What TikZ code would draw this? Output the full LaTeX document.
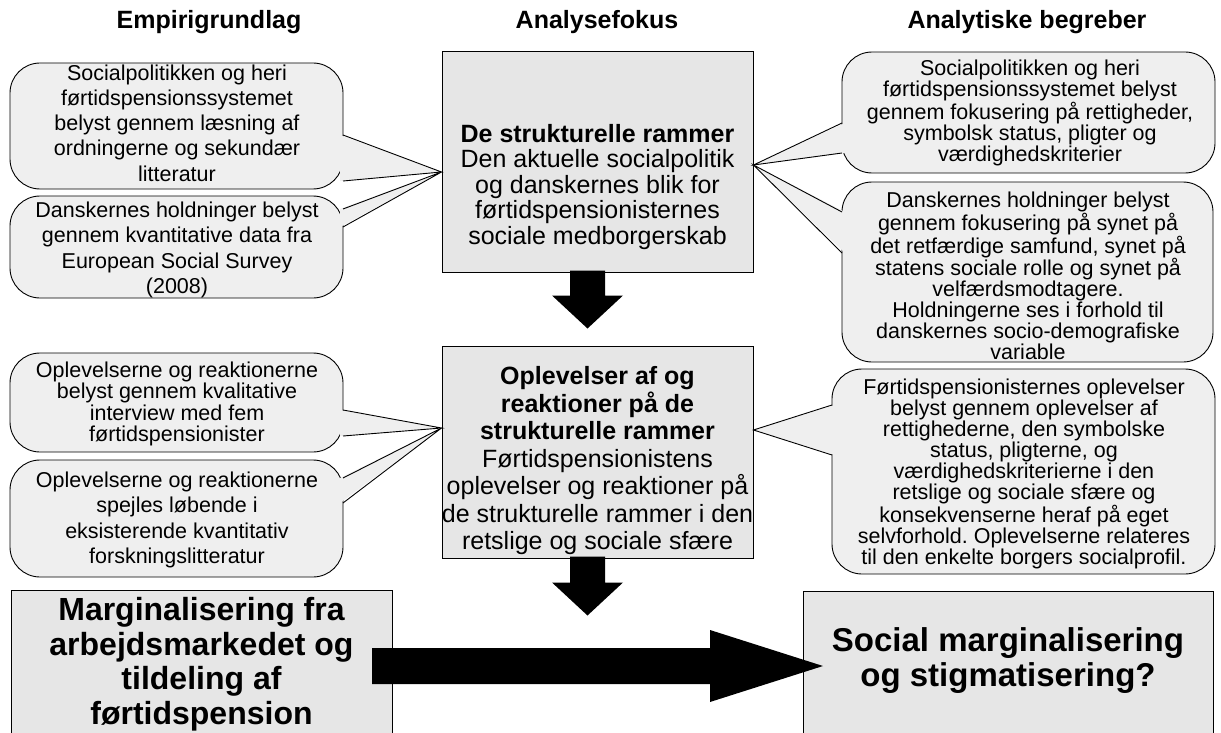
\documentclass[tikz,border=0pt]{standalone}
\usepackage{fontspec}
\setmainfont{Liberation Sans}
\usetikzlibrary{calc}
\definecolor{callfill}{HTML}{EFEFEF}
\definecolor{boxfill}{HTML}{E6E6E6}
\frenchspacing
\tikzset{
  hdr/.style={font=\bfseries\fontsize{25}{28}\selectfont, inner sep=0pt},
  ltext/.style={align=center, inner sep=0pt, font=\fontsize{21.5}{25.3}\selectfont},
  ltextS/.style={align=center, inner sep=0pt, font=\fontsize{21.5}{21.5}\selectfont},
  rtext/.style={align=center, inner sep=0pt, font=\fontsize{21.5}{21}\selectfont},
  cbox/.style={draw=black, fill=boxfill, line width=1pt, minimum width=311pt, inner sep=0pt},
  ctextA/.style={align=center, inner sep=0pt, font=\fontsize{25}{25.5}\selectfont},
  ctextB/.style={align=center, inner sep=0pt, font=\fontsize{25}{27.5}\selectfont},
  bbox/.style={draw=black, fill=boxfill, line width=1pt, inner sep=0pt, anchor=north west, minimum height=175pt},
  btextL/.style={align=center, inner sep=0pt, font=\bfseries\fontsize{32}{34.5}\selectfont},
  btextR/.style={align=center, inner sep=0pt, font=\bfseries\fontsize{33}{35}\selectfont},
  cshape/.style={draw=black, fill=callfill, line width=0.9pt, rounded corners=30pt},
  tailline/.style={draw=black, line width=0.9pt, line join=miter},
  bigarrow/.style={fill=black},
}
% tail on the right side: x1,y1,x2,y2,base1,base2,tip
\newcommand\calloutRight[7]{%
  \path[cshape] (#1,#2) rectangle (#3,#4);
  \fill[callfill] (#3-3,#5) -- (#7) -- (#3-3,#6) -- cycle;
  \path[tailline] (#3,#5) -- (#7) -- (#3,#6);
}
% tail on the left side
\newcommand\calloutLeft[7]{%
  \path[cshape] (#1,#2) rectangle (#3,#4);
  \fill[callfill] (#1+3,#5) -- (#7) -- (#1+3,#6) -- cycle;
  \path[tailline] (#1,#5) -- (#7) -- (#1,#6);
}
\begin{document}
\begin{tikzpicture}[x=1pt,y=-1pt]
\useasboundingbox (0,0) rectangle (1221,733);
\clip (0,0) rectangle (1221,733);
\fill[white] (0,0) rectangle (1221,733);

% headers
\node[hdr] (h1) at (209,22) {Empirigrundlag};
\node[hdr] (h2) at (597,22) {Analysefokus};
\node[hdr] (h3) at (1027,22) {Analytiske begreber};

% centre boxes
\node[cbox, minimum height=220pt] (box1) at (597.5,162) {};
\node[cbox, minimum height=212pt] (box2) at (597.5,452) {};
\node[ctextA] (t1) at (597.5,187) {%
  \textbf{De strukturelle rammer}\\Den aktuelle socialpolitik\\og danskernes blik for\\førtidspensionisternes\\sociale medborgerskab};
\node[ctextB] (t2) at (597.5,461) {%
  \textbf{Oplevelser af og}\\\textbf{reaktioner på de}\\\textbf{strukturelle rammer}\\Førtidspensionistens\\oplevelser og reaktioner på\\de strukturelle rammer i den\\retslige og sociale sfære};

% tips of the callouts
\coordinate (tipL1) at ($(box1.west)+(0,10)$);
\coordinate (tipL2) at ($(box2.west)+(0,-24)$);
\coordinate (tipR1) at ($(box1.east)+(0,3)$);
\coordinate (tipR2) at ($(box2.east)+(0,-22)$);

% left callouts
\calloutRight{10}{63}{343}{189}{135}{181}{tipL1}
\calloutRight{10}{196}{343}{298}{209}{227}{tipL1}
\calloutRight{10}{353}{343}{452}{410}{436}{tipL2}
\calloutRight{10}{460}{343}{577}{478}{503}{tipL2}
% right callouts
\calloutLeft{842}{52}{1215}{173}{123}{153}{tipR1}
\calloutLeft{842}{182}{1213}{362}{212}{253}{tipR1}
\calloutLeft{832}{369}{1215}{574}{405}{455}{tipR2}

% callout texts
\node[ltext] (l1) at (177,123) {Socialpolitikken og heri\\førtidspensionssystemet\\belyst gennem læsning af\\ordningerne og sekundær\\litteratur};
\node[ltext] (l2) at (177,250) {Danskernes holdninger belyst\\gennem kvantitative data fra\\European Social Survey\\(2008)};
\node[ltextS] (l3) at (177,404) {Oplevelserne og reaktionerne\\belyst gennem kvalitative\\interview med fem\\førtidspensionister};
\node[ltext] (l4) at (177,520) {Oplevelserne og reaktionerne\\spejles løbende i\\eksisterende kvantitativ\\forskningslitteratur};
\node[rtext] (r1) at (1030,113) {Socialpolitikken og heri\\førtidspensionssystemet belyst\\gennem fokusering på rettigheder,\\symbolsk status, pligter og\\værdighedskriterier};
\node[rtext] (r2) at (1028,276) {Danskernes holdninger belyst\\gennem fokusering på synet på\\det retfærdige samfund, synet på\\statens sociale rolle og synet på\\velfærdsmodtagere.\\Holdningerne ses i forhold til\\danskernes socio-demografiske\\variable};
\node[rtext] (r3) at (1024,474) {Førtidspensionisternes oplevelser\\belyst gennem oplevelser af\\rettighederne, den symbolske\\status, pligterne, og\\værdighedskriterierne i den\\retslige og sociale sfære og\\konsekvenserne heraf på eget\\selvforhold. Oplevelserne relateres\\til den enkelte borgers socialprofil.};

% down arrows
\fill[bigarrow] ($(box1.south)+(-27.5,-2)$) -- ($(box1.south)+(7.5,-2)$) -- ($(box1.south)+(7.5,23)$)
  -- ($(box1.south)+(25.5,23)$) -- ($(box1.south)+(-10,56)$) -- ($(box1.south)+(-45.5,23)$)
  -- ($(box1.south)+(-27.5,23)$) -- cycle;
\fill[bigarrow] ($(box2.south)+(-27.5,-2)$) -- ($(box2.south)+(7.5,-2)$) -- ($(box2.south)+(7.5,24)$)
  -- ($(box2.south)+(25.5,24)$) -- ($(box2.south)+(-10,57)$) -- ($(box2.south)+(-45.5,24)$)
  -- ($(box2.south)+(-27.5,24)$) -- cycle;

% bottom boxes
\node[bbox, minimum width=381pt] (lbox) at (11,590) {};
\node[bbox, minimum width=410pt] (rbox) at (803,591) {};
\node[btextL] (lt) at (201.5,664) {Marginalisering fra\\arbejdsmarkedet og\\tildeling af\\førtidspension};
\node[btextR] (rt) at (1008,661) {Social marginalisering\\og stigmatisering?};

% big horizontal arrow
\coordinate (baS) at ($(lbox.north east)+(-21,76)$);
\coordinate (baT) at ($(rbox.north west)+(20,75)$);
\fill[bigarrow] ($(baS)+(0,-18)$) -- ($(baS)+(338,-18)$) -- ($(baS)+(338,-36)$) -- (baT)
  -- ($(baS)+(338,36)$) -- ($(baS)+(338,18)$) -- ($(baS)+(0,18)$) -- cycle;
\end{tikzpicture}
\end{document}
